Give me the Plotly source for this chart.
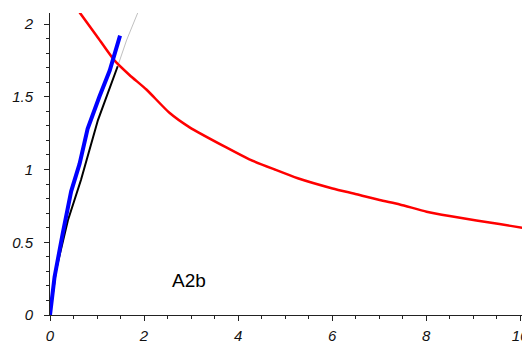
import plotly.graph_objects as go

# Red curve
red_x = [0.63, 0.99, 1.37, 1.69, 2.05, 2.54, 2.97, 3.76, 4.24, 4.78, 5.27, 6.01, 6.52, 7.01, 7.44, 8.01, 8.50, 9.07, 9.56, 10.05, 10.3]
red_y = [2.08, 1.92, 1.75, 1.65, 1.55, 1.39, 1.29, 1.15, 1.07, 1.00, 0.94, 0.87, 0.83, 0.79, 0.76, 0.71, 0.68, 0.65, 0.625, 0.60, 0.59]

# Blue curve
blue_x = [0.0, 0.096, 0.27, 0.45, 0.63, 0.80, 1.05, 1.27, 1.49]
blue_y = [0.0, 0.26, 0.56, 0.85, 1.04, 1.28, 1.50, 1.68, 1.92]

# Black curve
black_x = [0.0, 0.13, 0.38, 0.66, 1.02, 1.44]
black_y = [0.0, 0.31, 0.65, 0.93, 1.34, 1.71]

# Gray continuation
gray_x = [1.44, 1.63, 1.87, 1.95]
gray_y = [1.71, 1.89, 2.08, 2.16]

label_text = "A2b"
label_x = 2.96
label_y = 0.235

fig = go.Figure()
fig.add_trace(go.Scatter(x=gray_x, y=gray_y, mode="lines", line=dict(color="#c0c0c0", width=1)))
fig.add_trace(go.Scatter(x=black_x, y=black_y, mode="lines", line=dict(color="black", width=2)))
fig.add_trace(go.Scatter(x=red_x, y=red_y, mode="lines", line=dict(color="#ff0000", width=2.5, shape="spline", smoothing=0.6)))
fig.add_trace(go.Scatter(x=blue_x, y=blue_y, mode="lines", line=dict(color="#0000ff", width=4)))

fig.add_annotation(x=label_x, y=label_y, text=label_text, showarrow=False,
                   font=dict(family="Liberation Sans, Arial", size=19, color="black"))

axis_common = dict(
    showgrid=False, zeroline=False, showline=True, linecolor="#222", linewidth=1,
    ticks="outside", ticklen=5, tickcolor="#222",
    tickfont=dict(family="Liberation Sans, Arial", size=15, color="#111", style="italic"),
)
fig.update_xaxes(range=[0, 10.21], dtick=2, tick0=0, ticklabelstandoff=2,
                 minor=dict(dtick=0.5, ticks="outside", ticklen=3, tickcolor="#222"),
                 **axis_common)
fig.update_yaxes(range=[0, 2.076], dtick=0.5, tick0=0, ticklabelstandoff=8,
                 minor=dict(dtick=0.1, ticks="outside", ticklen=3, tickcolor="#222"),
                 **axis_common)

# page body has an 8px margin, so the figure is sized to fit the remaining area
fig.update_layout(
    width=522, height=337,
    margin=dict(l=42, r=0, t=5, b=30, autoexpand=False),
    plot_bgcolor="white", paper_bgcolor="white",
    showlegend=False,
)
fig.write_html("out.html")
